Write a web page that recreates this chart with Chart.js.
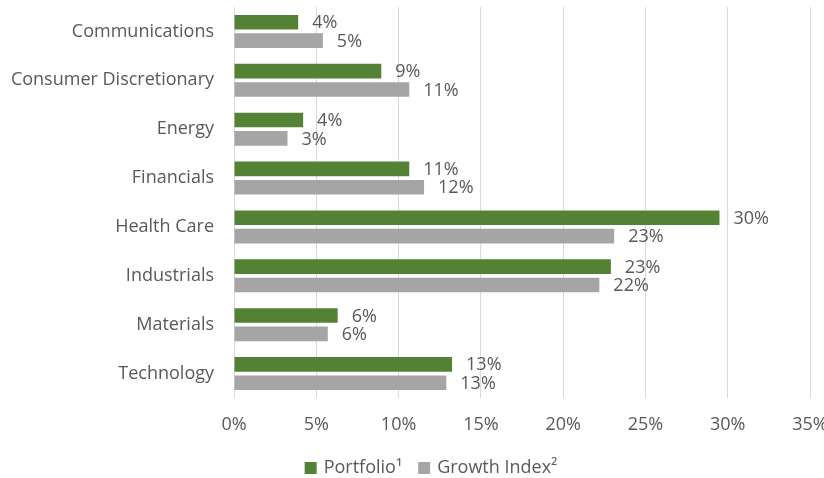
<!DOCTYPE html>
<html>
<head>
<meta charset="utf-8">
<script src="https://cdn.jsdelivr.net/npm/chart.js@4.4.1/dist/chart.umd.min.js"></script>
<style>
  html, body { margin: 0; padding: 0; background: #ffffff; }
  #wrap { width: 824px; height: 478px; position: relative; }
</style>
</head>
<body>
<div id="wrap"><canvas id="c" width="824" height="478"></canvas></div>
<script>
const categories = ["Communications", "Consumer Discretionary", "Energy", "Financials", "Health Care", "Industrials", "Materials", "Technology"];
const portfolio = [3.9, 8.95, 4.2, 10.65, 29.5, 22.9, 6.3, 13.25];
const growthIndex = [5.4, 10.65, 3.25, 11.55, 23.1, 22.2, 5.7, 12.9];
const portfolioLabels = ["4%", "9%", "4%", "11%", "30%", "23%", "6%", "13%"];
const growthLabels = ["5%", "11%", "3%", "12%", "23%", "22%", "6%", "13%"];
const seriesNames = ["Portfolio\u00B9", "Growth Index\u00B2"];
const xTicks = [0, 5, 10, 15, 20, 25, 30, 35];

const FONT = "'Open Sans', sans-serif";
const TXT = "#595959";

const valueLabels = {
  id: "valueLabels",
  afterDatasetsDraw(chart) {
    const ctx = chart.ctx;
    const lists = [portfolioLabels, growthLabels];
    ctx.save();
    ctx.font = "18px " + FONT;
    ctx.fillStyle = TXT;
    ctx.textAlign = "left";
    ctx.textBaseline = "middle";
    chart.data.datasets.forEach((ds, di) => {
      const meta = chart.getDatasetMeta(di);
      meta.data.forEach((bar, i) => {
        ctx.fillText(lists[di][i], bar.x + 14, bar.y + 1);
      });
    });
    ctx.restore();
  }
};

const customLegend = {
  id: "customLegend",
  afterDraw(chart) {
    const ctx = chart.ctx;
    ctx.save();
    ctx.font = "18px " + FONT;
    ctx.textBaseline = "middle";
    ctx.textAlign = "left";
    const box = 12, gapText = 7, gapItem = 16;
    const items = chart.data.datasets.map(ds => ({
      text: ds.label, color: ds.backgroundColor, w: ctx.measureText(ds.label).width
    }));
    const total = items.reduce((s, it) => s + box + gapText + it.w, 0) + gapItem * (items.length - 1);
    let x = 431 - total / 2;
    const cy = 468;
    items.forEach(it => {
      ctx.fillStyle = it.color;
      ctx.fillRect(x, cy - box / 2, box, box);
      ctx.fillStyle = TXT;
      ctx.fillText(it.text, x + box + gapText, cy);
      x += box + gapText + it.w + gapItem;
    });
    ctx.restore();
  }
};

new Chart(document.getElementById("c"), {
  type: "bar",
  data: {
    labels: categories,
    datasets: [
      { label: seriesNames[0], data: portfolio, backgroundColor: "#548235", borderWidth: 0,
        categoryPercentage: 0.753, barPercentage: 0.8 },
      { label: seriesNames[1], data: growthIndex, backgroundColor: "#a5a5a5", borderWidth: 0,
        categoryPercentage: 0.753, barPercentage: 0.8 }
    ]
  },
  options: {
    indexAxis: "y",
    responsive: false,
    animation: false,
    layout: { autoPadding: false, padding: { left: 4, right: 14, top: 7, bottom: 0 } },
    plugins: {
      tooltip: { enabled: false },
      legend: { display: false }
    },
    scales: {
      x: {
        min: 0, max: 35,
        afterBuildTicks(scale) { scale.ticks = xTicks.map(v => ({ value: v })); },
        afterFit(scale) { scale.height = 80; scale.paddingLeft = 0; scale.paddingRight = 0; },
        ticks: {
          callback: v => v + "%",
          font: { family: FONT, size: 18 },
          color: TXT,
          padding: 16,
          maxRotation: 0
        },
        grid: { color: "#d9d9d9", lineWidth: 1, drawTicks: false },
        border: { display: false }
      },
      y: {
        afterFit(scale) { scale.width = 230; scale.paddingTop = 0; scale.paddingBottom = 0; },
        ticks: {
          font: { family: FONT, size: 18 },
          color: TXT,
          padding: 12
        },
        grid: { display: false },
        border: { display: false }
      }
    }
  },
  plugins: [valueLabels, customLegend]
});
</script>
</body>
</html>
